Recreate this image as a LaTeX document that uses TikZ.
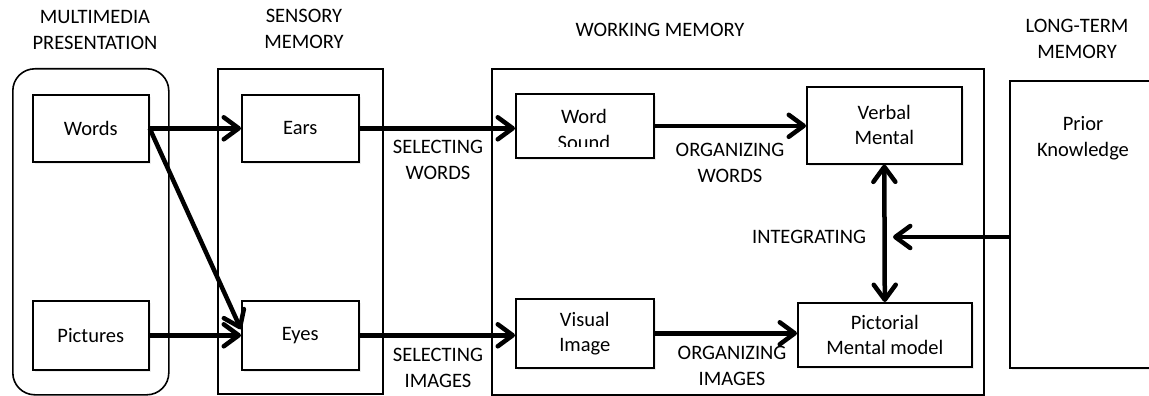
\documentclass[tikz,border=0pt]{standalone}
\usepackage{fontspec}
\setmainfont{Carlito}
\usetikzlibrary{arrows.meta,shadows}
\begin{document}
\begin{tikzpicture}[x=1pt,y=-1pt,
  txt/.style={font=\fontsize{20.5}{26}\selectfont, align=center, inner sep=0pt},
  frame/.style={draw, line width=1.6pt},
  box/.style={draw, line width=1.6pt, fill=white, anchor=north west,
    font=\fontsize{20.5}{25}\selectfont, align=center, inner sep=0pt,
    drop shadow={opacity=0.15, shadow xshift=2pt, shadow yshift=-2pt}},
  tip/.style={Straight Barb[length=15pt,width=22pt,round]},
  arr/.style={line width=4.5pt, -{Straight Barb[length=15pt,width=22pt,round]}},
  darr/.style={line width=4.5pt, {Straight Barb[length=15pt,width=22pt,round]}-{Straight Barb[length=15pt,width=22pt,round]}}
]
\clip (0,0) rectangle (1149,396);
% containers
\node[frame, rounded corners=22pt, minimum width=156pt, minimum height=326pt, anchor=north west] (mm) at (12,68) {};
\node[frame, minimum width=165pt, minimum height=325pt, anchor=north west] (sens) at (217,68) {};
\node[frame, minimum width=492pt, minimum height=326pt, anchor=north west] (wm) at (491,68) {};
\node[box, minimum width=200pt, minimum height=287pt] (ltm) at (1009,80) {};
% inner boxes
\node[box, minimum width=116pt, minimum height=67pt] (words) at (32,94) {Words};
\node[box, minimum width=116pt, minimum height=69pt] (pictures) at (32,300) {Pictures};
\node[box, minimum width=117pt, minimum height=67pt] (ears) at (241,94) {Ears};
\node[box, minimum width=117pt, minimum height=69pt] (eyes) at (241,300) {Eyes};
\node[box, minimum width=138pt, minimum height=64pt] (wordsound) at (515,93) {};
\node[box, minimum width=138pt, minimum height=69pt] (visual) at (515,298) {Visual\\Image};
\node[box, minimum width=155pt, minimum height=77pt] (verbal) at (806,86) {Verbal\\Mental};
\node[box, minimum width=174pt, minimum height=64pt] (pictorial) at (797,302) {Pictorial\\Mental model};
\begin{scope}
  \clip (515,93) rectangle (653,146);
  \node[txt] (wst) at (584,129.5) {Word\\Sound};
\end{scope}
\node[txt] (pk) at (1083,138) {Prior\\Knowledge};
% titles
\node[txt] (mmt) at (95,30) {MULTIMEDIA\\PRESENTATION};
\node[txt] (smt) at (304,29) {SENSORY\\MEMORY};
\node[txt] (wmt) at (660,30) {WORKING MEMORY};
\node[txt] (ltmt) at (1077,39) {LONG-TERM\\MEMORY};
% labels
\node[txt] (sw) at (438,160) {SELECTING\\WORDS};
\node[txt] (si) at (438,368) {SELECTING\\IMAGES};
\node[txt] (ow) at (730,162.5) {ORGANIZING\\WORDS};
\node[txt] (oi) at (732,365.5) {ORGANIZING\\IMAGES};
\node[txt] (int) at (809,237) {INTEGRATING};
\coordinate (intin) at (893,237);
% arrows
\draw[arr] (words.east) -- (ears.west);
\draw[arr] (words.east) -- ([yshift=6pt]eyes.west);
\draw[arr] (pictures.east) -- (eyes.west);
\draw[arr] (ears.east) -- (ears.east -| wordsound.west);
\draw[arr] (eyes.east) -- (eyes.east -| visual.west);
\draw[arr] (wordsound.east) -- (wordsound.east -| verbal.west);
\draw[arr] (visual.east) -- (visual.east -| pictorial.west);
\draw[darr] (verbal.south) -- (pictorial.north);
\draw[arr] (ltm.west |- intin) -- (intin);
\end{tikzpicture}
\end{document}
